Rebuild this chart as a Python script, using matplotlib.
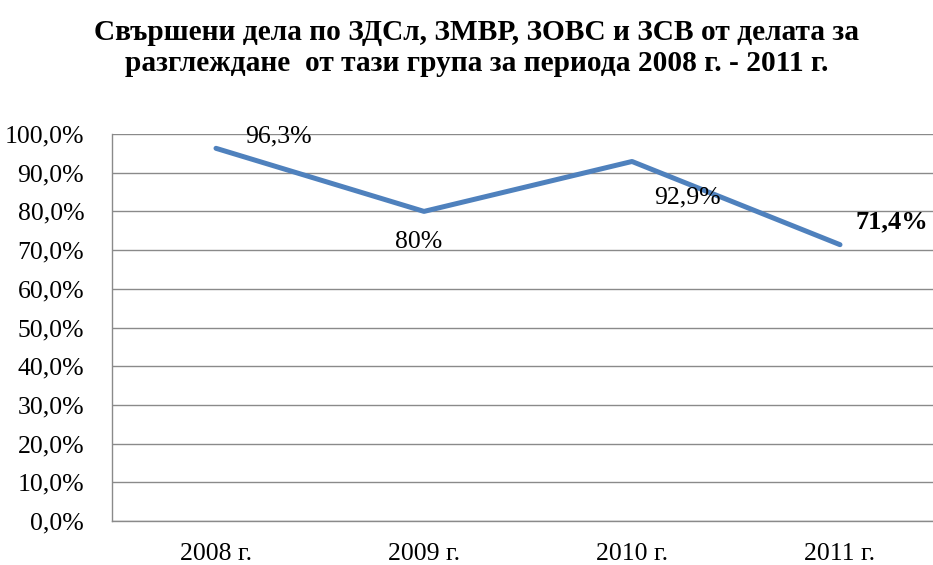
import matplotlib.pyplot as plt
import numpy as np

years = ['2008 г.', '2009 г.', '2010 г.', '2011 г.']
values = [96.3, 80.0, 92.9, 71.4]
labels = ['96,3%', '80%', '92,9%', '71,4%']
# label offsets in pixels from each point
offsets = [(62, 12), (-5, -31), (55, -36), (52, 23)]
bold = [False, False, False, True]

plt.rcParams['font.family'] = ['Liberation Serif', 'DejaVu Serif']

fig = plt.figure(figsize=(9.33, 5.65), dpi=100)
ax = fig.add_axes([112 / 933, 44 / 565, 832 / 933, 387 / 565])

x = np.arange(len(years))
ax.plot(x, values, color='#4F81BD', linewidth=3.6, solid_capstyle='round')

for xi, v, lab, off, b in zip(x, values, labels, offsets, bold):
    ax.annotate(lab, (xi, v), xytext=off, textcoords='offset pixels',
                ha='center', va='center', fontsize=19 if b else 18.5,
                fontweight='bold' if b else 'normal')

ax.set_xlim(-0.5, 3.5)
ax.set_ylim(0, 100)
ax.set_yticks(np.arange(0, 101, 10))
ax.set_yticklabels([('%.1f%%' % t).replace('.', ',') for t in np.arange(0, 101, 10)])
ax.set_xticks(x)
ax.set_xticklabels(years)
ax.tick_params(axis='both', length=0, labelsize=18.5)
ax.tick_params(axis='y', pad=20)
ax.tick_params(axis='x', pad=16)
ax.grid(axis='y', color='#8a8a8a', linewidth=1)
ax.set_axisbelow(True)
for s in ['top', 'right']:
    ax.spines[s].set_visible(False)
for s in ['left', 'bottom']:
    ax.spines[s].set_color('#8a8a8a')
    ax.spines[s].set_linewidth(1)

fig.text(477 / 933, 1 - 48 / 565, 'Свършени дела по ЗДСл, ЗМВР, ЗОВС и ЗСВ от делата за\n'
         'разглеждане  от тази група за периода 2008 г. - 2011 г.',
         ha='center', va='center', fontsize=21.2, fontweight='bold', linespacing=1.18)

fig.savefig('out.png', dpi=100)
